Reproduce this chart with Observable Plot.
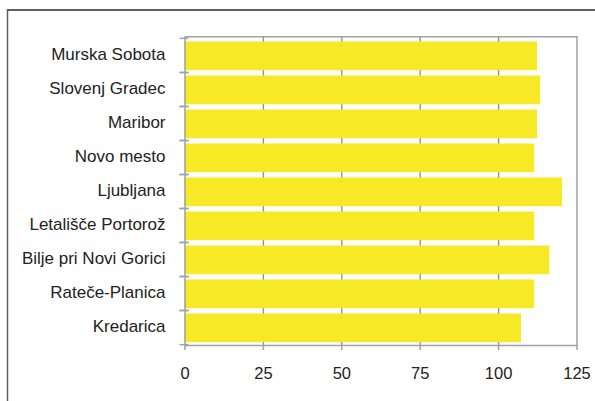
<!DOCTYPE html>
<html>
<head>
<meta charset="utf-8">
<script src="https://cdn.jsdelivr.net/npm/d3@7"></script>
<script src="https://cdn.jsdelivr.net/npm/@observablehq/plot@0.6"></script>
<style>
  html, body { margin: 0; padding: 0; background: #fff; overflow: hidden; }
  #wrap { width: 595px; height: 401px; overflow: hidden; }
  svg { display: block; }
</style>
</head>
<body>
<div id="wrap"></div>
<script>
const stations = ["Murska Sobota", "Slovenj Gradec", "Maribor", "Novo mesto", "Ljubljana",
  "Letališče Portorož", "Bilje pri Novi Gorici", "Rateče-Planica", "Kredarica"];
const values = [112.4, 113.4, 112.4, 111.5, 120.4, 111.5, 116.3, 111.5, 107.3];
const xTicks = [0, 25, 50, 75, 100, 125];
const gridTicks = [25, 50, 75, 100];

const data = stations.map((s, i) => ({station: s, value: values[i]}));

const marginTop = 36.3, marginBottom = 56, height = 401;
const step = (height - marginTop - marginBottom) / stations.length;
const axisColor = "#9ea3a8";
const font = "Liberation Sans, Arial, Helvetica, sans-serif";

const chart = Plot.plot({
  width: 595,
  height,
  marginLeft: 184.5,
  marginRight: 18.5,
  marginTop,
  marginBottom,
  style: {fontFamily: font, fontSize: "17px", color: "#222", background: "#fff"},
  x: {domain: [0, 125], label: null},
  y: {domain: stations, padding: 0, label: null},
  marks: [
    Plot.gridX(gridTicks, {stroke: "#8e9296", strokeOpacity: 1, strokeWidth: 1.4}),
    Plot.barX(data, {x: "value", y: "station", fill: "#f7e926", insetTop: 3.5, insetBottom: 1.8}),
    Plot.frame({stroke: axisColor, strokeWidth: 1.5}),
    Plot.axisX({ticks: xTicks, tickSize: 5, tickPadding: 16.5, stroke: axisColor, strokeWidth: 1.5, fill: "#222", fontSize: 16.5, label: null}),
    Plot.axisY({text: null, tickSize: 9, insetLeft: 4, dy: step / 2, stroke: axisColor, strokeWidth: 1.5, label: null}),
    Plot.axisY({text: null, tickSize: 9, insetLeft: 4, dy: -step / 2, stroke: axisColor, strokeWidth: 1.5, label: null}),
    Plot.axisY({tickSize: 0, tickPadding: 19.5, fill: "#222", fontSize: 17, dy: -1, label: null})
  ]
});
// decorative outer border of the original figure (top and left edges)
const svg = d3.select(chart);
svg.append("line").attr("x1", 7.5).attr("x2", 595).attr("y1", 10).attr("y2", 10)
  .attr("stroke", "#5f5f5f").attr("stroke-width", 2);
svg.append("line").attr("x1", 7.5).attr("x2", 7.5).attr("y1", 9).attr("y2", 401)
  .attr("stroke", "#5f5f5f").attr("stroke-width", 1.5);
document.getElementById("wrap").append(chart);
</script>
</body>
</html>
